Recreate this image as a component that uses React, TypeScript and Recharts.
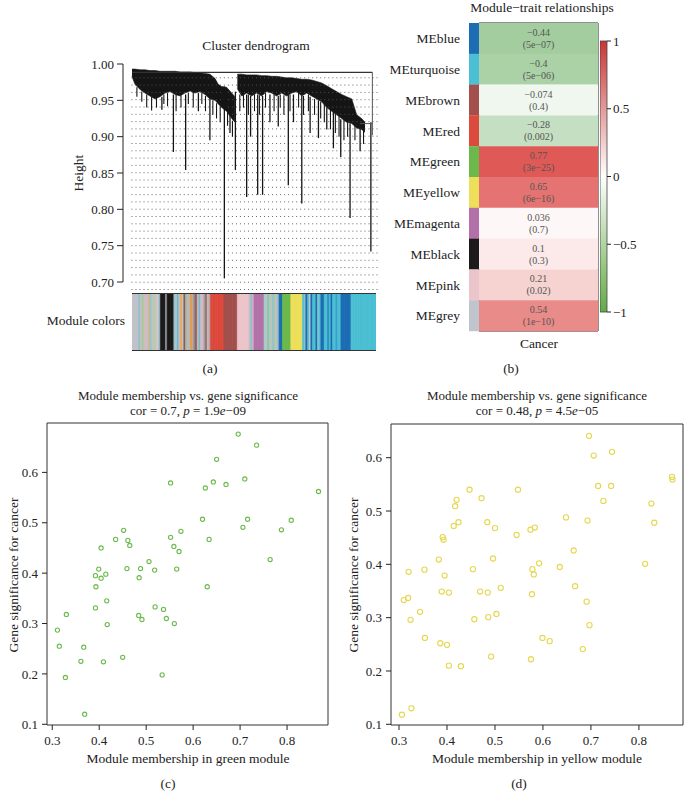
import React from 'react';
import {
  ComposedChart, Area, XAxis, YAxis, ReferenceLine, ReferenceArea,
  BarChart, Bar, Cell, LabelList, ScatterChart, Scatter
} from 'recharts';

const FONT = '"Liberation Serif", "DejaVu Serif", serif';
const INK = '#222';

// (a) dendrogram: dense upper mass of the tree, by leaf position (0..1)
const CORE_LEAF = [0, 0.012, 0.033, 0.053, 0.073, 0.094, 0.114, 0.135, 0.155, 0.176, 0.196, 0.216, 0.237, 0.257, 0.278, 0.298, 0.318, 0.339, 0.352, 0.366, 0.386, 0.407, 0.42, 0.425, 0.43, 0.448, 0.468, 0.488, 0.509, 0.529, 0.55, 0.57, 0.59, 0.611, 0.631, 0.652, 0.672, 0.693, 0.713, 0.733, 0.754, 0.774, 0.795, 0.815, 0.835, 0.856, 0.876, 0.897, 0.917, 0.937, 0.951];
const CORE_TOP = [0.993, 0.993, 0.992, 0.992, 0.991, 0.991, 0.99, 0.99, 0.99, 0.99, 0.989, 0.989, 0.989, 0.988, 0.988, 0.987, 0.986, 0.98, 0.972, 0.969, 0.968, 0.96, 0.955, null, 0.986, 0.986, 0.985, 0.985, 0.985, 0.984, 0.984, 0.983, 0.983, 0.982, 0.981, 0.981, 0.98, 0.979, 0.979, 0.978, 0.976, 0.974, 0.97, 0.966, 0.962, 0.958, 0.955, 0.952, 0.93, 0.925, 0.92];
const CORE_BOTTOM = [0.983, 0.972, 0.965, 0.96, 0.956, 0.952, 0.955, 0.96, 0.962, 0.958, 0.956, 0.96, 0.963, 0.96, 0.962, 0.958, 0.952, 0.95, 0.945, 0.94, 0.935, 0.925, 0.92, null, 0.966, 0.956, 0.96, 0.956, 0.96, 0.956, 0.962, 0.96, 0.956, 0.96, 0.956, 0.96, 0.962, 0.956, 0.96, 0.956, 0.952, 0.948, 0.94, 0.935, 0.93, 0.925, 0.92, 0.918, 0.912, 0.91, 0.906];

// long single branches hanging below the mass
const DRIP_LEAF = [0.122, 0.169, 0.219, 0.271, 0.318, 0.377, 0.4, 0.422, 0.468, 0.484, 0.513, 0.533, 0.563, 0.597, 0.638, 0.659, 0.693, 0.727, 0.761, 0.795, 0.822, 0.852, 0.89, 0.931, 0.975];
const DRIP_TOP = [0.955, 0.958, 0.958, 0.96, 0.952, 0.969, 0.93, 0.962, 0.958, 0.956, 0.958, 0.956, 0.958, 0.956, 0.958, 0.958, 0.956, 0.955, 0.95, 0.94, 0.934, 0.924, 0.918, 0.912, 0.92];
const DRIP_BOTTOM = [0.937, 0.879, 0.854, 0.935, 0.895, 0.705, 0.905, 0.854, 0.817, 0.9, 0.82, 0.82, 0.92, 0.914, 0.833, 0.92, 0.808, 0.905, 0.898, 0.91, 0.884, 0.872, 0.788, 0.88, 0.742];

// short twigs that make the ragged lower edge of the mass
const TWIG_LEAF = [0.02, 0.04, 0.06, 0.08, 0.1, 0.13, 0.145, 0.18, 0.2, 0.23, 0.25, 0.285, 0.3, 0.33, 0.345, 0.36, 0.39, 0.41, 0.44, 0.455, 0.475, 0.5, 0.52, 0.545, 0.58, 0.605, 0.62, 0.645, 0.68, 0.7, 0.72, 0.745, 0.77, 0.785, 0.81, 0.83, 0.845, 0.865, 0.88, 0.91, 0.945];
const TWIG_TOP = [0.968, 0.962, 0.958, 0.955, 0.955, 0.958, 0.96, 0.958, 0.957, 0.96, 0.962, 0.96, 0.956, 0.95, 0.946, 0.942, 0.934, 0.922, 0.958, 0.958, 0.958, 0.958, 0.957, 0.96, 0.958, 0.958, 0.957, 0.958, 0.96, 0.956, 0.958, 0.952, 0.948, 0.945, 0.937, 0.932, 0.928, 0.924, 0.92, 0.915, 0.908];
const TWIG_BOTTOM = [0.955, 0.948, 0.94, 0.936, 0.94, 0.945, 0.942, 0.935, 0.94, 0.945, 0.94, 0.945, 0.935, 0.93, 0.925, 0.92, 0.915, 0.9, 0.935, 0.94, 0.93, 0.935, 0.93, 0.94, 0.935, 0.94, 0.93, 0.935, 0.94, 0.93, 0.935, 0.93, 0.925, 0.92, 0.91, 0.905, 0.9, 0.895, 0.9, 0.895, 0.89];

const HEIGHT_TICKS = [0.7, 0.75, 0.8, 0.85, 0.9, 0.95, 1.0];
const GUIDE_LEAVES = Array.from({ length: 62 }, (_, i) => i / 61);

// module colour bar under the dendrogram: [colour, width units]
const STRIPE_RUNS: [string, number][] = [
  ['#c0c2c8', 4],
  ['#8fbfc9', 1], ['#c2c2c8', 1], ['#a8c98f', 1], ['#c2c2c8', 1], ['#e0b4b8', 1], ['#c2c2c8', 1], ['#c9b88a', 1],
  ['#9cc5cf', 1], ['#c2c2c8', 1], ['#b2d39a', 1], ['#c2c2c8', 1], ['#e4c4c8', 1], ['#8fc0cc', 1],
  ['#1c1a1a', 3], ['#9a9aa0', 1], ['#1c1a1a', 4],
  ['#8ec3cf', 1], ['#c0c0c6', 1], ['#6ab8cc', 1], ['#c2c2c8', 1], ['#e9a84d', 1], ['#c2c2c8', 1], ['#a0524d', 1],
  ['#8fbfc9', 1], ['#c9b88a', 1], ['#b8b8c0', 1], ['#e89a3c', 1], ['#c2a89a', 1], ['#8a8a92', 1], ['#a0524d', 1],
  ['#c2c2c8', 1], ['#7fb6c8', 1], ['#c2c2c8', 1], ['#e0b4b8', 1], ['#a0a0a8', 1], ['#9b6a60', 1], ['#c2c2c8', 1], ['#bfa0a0', 1],
  ['#dc4a3d', 8], ['#a34f4b', 8], ['#ecc4cb', 7],
  ['#c2c2c8', 1], ['#8fbfc9', 1], ['#d8a8c0', 1],
  ['#b272a9', 6],
  ['#9ccfc5', 1], ['#c2c2c8', 1], ['#7fc4b8', 1], ['#a8d0a0', 1], ['#c2c2c8', 1], ['#8ec3cf', 1], ['#b0c8a0', 1], ['#c2c2c8', 1], ['#8fbfc9', 1],
  ['#1c6db4', 2], ['#6cb94b', 5], ['#eddf5a', 7],
  ['#4bbfd3', 1], ['#8fbfc9', 1], ['#1c6db4', 1], ['#4bbfd3', 1], ['#c2c2c8', 1], ['#1c6db4', 1], ['#4bbfd3', 2], ['#1c6db4', 1],
  ['#8ec3cf', 1], ['#4bbfd3', 1], ['#1c6db4', 2], ['#4bbfd3', 2], ['#2a86c4', 1], ['#4bbfd3', 1], ['#1c6db4', 1], ['#4bbfd3', 2],
  ['#3a9fd0', 1], ['#4bbfd3', 2],
  ['#1c6db4', 6], ['#4bbfd3', 15],
];

// (b) module-trait relationships
const MODULES = ['blue', 'turquoise', 'brown', 'red', 'green', 'yellow', 'magenta', 'black', 'pink', 'grey'];
const MODULE_HEX = ['#1c6db4', '#4bbfd3', '#a34f4b', '#dc4a3d', '#6cb94b', '#eddf5a', '#b272a9', '#1c1a1a', '#ecc4cb', '#c0c4cc'];
const CORR = [-0.44, -0.4, -0.074, -0.28, 0.77, 0.65, 0.036, 0.1, 0.21, 0.54];
const PVAL = ['5e−07', '5e−06', '0.4', '0.002', '3e−25', '6e−16', '0.7', '0.3', '0.02', '1e−10'];
const LEGEND_TICKS = [-1, -0.5, 0, 0.5, 1];

// (c) green module
const GREEN_MM = [0.696, 0.735, 0.65, 0.552, 0.643, 0.626, 0.67, 0.71, 0.867, 0.62, 0.716, 0.706, 0.809, 0.788, 0.764, 0.634, 0.63, 0.452, 0.435, 0.461, 0.465, 0.404, 0.552, 0.574, 0.559, 0.57, 0.506, 0.518, 0.565, 0.488, 0.459, 0.485, 0.399, 0.392, 0.404, 0.414, 0.393, 0.416, 0.392, 0.417, 0.519, 0.537, 0.543, 0.56, 0.484, 0.491, 0.33, 0.311, 0.315, 0.367, 0.361, 0.409, 0.45, 0.328, 0.534, 0.369];
const GREEN_GS = [0.676, 0.654, 0.626, 0.579, 0.581, 0.569, 0.576, 0.587, 0.562, 0.507, 0.507, 0.491, 0.505, 0.486, 0.427, 0.467, 0.373, 0.485, 0.467, 0.465, 0.455, 0.45, 0.471, 0.483, 0.453, 0.443, 0.423, 0.406, 0.408, 0.409, 0.409, 0.391, 0.408, 0.395, 0.39, 0.398, 0.373, 0.345, 0.331, 0.298, 0.333, 0.328, 0.31, 0.3, 0.316, 0.308, 0.318, 0.287, 0.255, 0.253, 0.225, 0.224, 0.233, 0.193, 0.198, 0.12];

// (d) yellow module
const YELLOW_MM = [0.447, 0.548, 0.42, 0.417, 0.472, 0.414, 0.424, 0.484, 0.5, 0.545, 0.574, 0.583, 0.391, 0.393, 0.383, 0.496, 0.32, 0.353, 0.395, 0.454, 0.389, 0.404, 0.469, 0.485, 0.512, 0.31, 0.319, 0.344, 0.324, 0.457, 0.486, 0.503, 0.354, 0.386, 0.4, 0.492, 0.404, 0.429, 0.306, 0.326, 0.575, 0.577, 0.578, 0.581, 0.592, 0.696, 0.706, 0.744, 0.715, 0.742, 0.726, 0.869, 0.87, 0.826, 0.832, 0.813, 0.648, 0.693, 0.664, 0.635, 0.667, 0.691, 0.697, 0.683, 0.599, 0.614];
const YELLOW_GS = [0.54, 0.54, 0.521, 0.509, 0.524, 0.472, 0.479, 0.479, 0.468, 0.455, 0.465, 0.469, 0.451, 0.446, 0.409, 0.411, 0.386, 0.39, 0.379, 0.391, 0.349, 0.347, 0.349, 0.347, 0.356, 0.333, 0.337, 0.311, 0.296, 0.297, 0.301, 0.307, 0.262, 0.252, 0.249, 0.227, 0.21, 0.209, 0.118, 0.13, 0.222, 0.344, 0.391, 0.381, 0.402, 0.641, 0.604, 0.611, 0.547, 0.547, 0.519, 0.564, 0.559, 0.514, 0.478, 0.401, 0.488, 0.482, 0.426, 0.395, 0.359, 0.33, 0.286, 0.241, 0.262, 0.256];

const MM_TICKS = [0.3, 0.4, 0.5, 0.6, 0.7, 0.8];
const GS_TICKS = [0.1, 0.2, 0.3, 0.4, 0.5, 0.6];

const minus = (s: string) => s.replace('-', '−');

const corrColor = (v: number) => {
  const end = v >= 0 ? [214, 40, 36] : [46, 141, 35];
  const a = Math.abs(v);
  const c = end.map(e => Math.round(255 + (e - 255) * a));
  return `rgb(${c[0]},${c[1]},${c[2]})`;
};

const ring = (color: string, r: number) => (props: any) => (
  <circle cx={props.cx} cy={props.cy} r={r} fill="none" stroke={color} strokeWidth={1.1} />
);

const tickStyle = { fontSize: 13, fill: INK, fontFamily: FONT };
const X_PAD: [number, number] = [-0.0367, 1.0367];

const Dendrogram: React.FC = () => {
  const core = CORE_LEAF.map((leaf, i) => ({
    leaf,
    mass: CORE_TOP[i] == null ? null : [CORE_BOTTOM[i], CORE_TOP[i]],
  }));
  return (
    <ComposedChart width={400} height={300} data={core} margin={{ top: 64, right: 14, bottom: 10, left: 63 }}>
      <XAxis type="number" dataKey="leaf" domain={X_PAD} hide />
      <YAxis type="number" domain={[0.689, 1.0]} ticks={HEIGHT_TICKS} width={60} interval={0}
        tickFormatter={(v: number) => v.toFixed(2)} tick={tickStyle} tickSize={6} tickMargin={3}
        axisLine={false} tickLine={{ stroke: INK }} allowDataOverflow />
      {GUIDE_LEAVES.map((x, i) => (
        <ReferenceLine key={`g-${i}`} segment={[{ x, y: 0.689 }, { x, y: 0.985 }]} stroke="#555"
          strokeWidth={0.9} strokeDasharray="1 6.3" ifOverflow="visible" />
      ))}
      <ReferenceLine segment={[{ x: X_PAD[0], y: 0.7 }, { x: X_PAD[0], y: 1.0 }]} stroke={INK} ifOverflow="visible" />
      <Area type="linear" dataKey="mass" stroke="#151515" strokeWidth={0.6} fill="#151515" fillOpacity={1}
        connectNulls={false} isAnimationActive={false} dot={false} activeDot={false} />
      {TWIG_LEAF.map((x, i) => (
        <ReferenceLine key={`t-${i}`} segment={[{ x, y: TWIG_TOP[i] }, { x, y: TWIG_BOTTOM[i] }]}
          stroke="#151515" strokeWidth={1.1} ifOverflow="visible" />
      ))}
      {DRIP_LEAF.map((x, i) => (
        <ReferenceLine key={`d-${i}`} segment={[{ x, y: DRIP_TOP[i] }, { x, y: DRIP_BOTTOM[i] }]}
          stroke="#151515" strokeWidth={1.3} ifOverflow="visible" />
      ))}
      <ReferenceLine segment={[{ x: 0, y: 0.9885 }, { x: 0.981, y: 0.9885 }]} stroke="#333" strokeWidth={1.2} />
      <ReferenceLine segment={[{ x: 0.981, y: 0.9885 }, { x: 0.981, y: 0.902 }]} stroke="#555" strokeWidth={1} />
      <ReferenceLine segment={[{ x: 0.931, y: 0.918 }, { x: 0.981, y: 0.918 }]} stroke="#555" strokeWidth={1} />
    </ComposedChart>
  );
};

const ModuleColorBar: React.FC = () => {
  const stripes = STRIPE_RUNS.flatMap(([color, n]) => Array.from({ length: n }, () => ({ color, h: 1 })))
    .map((d, i) => ({ ...d, i }));
  return (
    <div style={{ position: 'absolute', left: 132, top: 293, width: 244, height: 56, borderTop: '1px solid #333', borderBottom: '1px solid #333' }}>
      <BarChart width={244} height={56} data={stripes} margin={{ top: 0, right: 0, bottom: 0, left: 0 }}
        barCategoryGap={0} barGap={0}>
        <XAxis dataKey="i" hide />
        <YAxis domain={[0, 1]} hide />
        <Bar dataKey="h" isAnimationActive={false}>
          {stripes.map((d, i) => <Cell key={`s-${i}`} fill={d.color} stroke={d.color} strokeWidth={0.6} />)}
        </Bar>
      </BarChart>
    </div>
  );
};

const STRIP_W = 10;
const CELL_W = 119;

const CellText = (props: any) => {
  const { x, y, width, height, value } = props;
  const [r, p] = String(value).split('|');
  const cx = x + width / 2;
  const cy = y + height / 2;
  return (
    <g>
      <text x={cx} y={cy - 6} textAnchor="middle" dominantBaseline="central" fontSize={10} fill="#555" fontFamily={FONT}>{r}</text>
      <text x={cx} y={cy + 6} textAnchor="middle" dominantBaseline="central" fontSize={10} fill="#555" fontFamily={FONT}>{p}</text>
    </g>
  );
};

const TraitHeatmap: React.FC = () => {
  const rows = MODULES.map((m, i) => ({
    name: `ME${m}`,
    strip: STRIP_W,
    cell: CELL_W,
    txt: `${minus(String(CORR[i]))}|(${PVAL[i]})`,
  }));
  return (
    <BarChart layout="vertical" width={342} height={360} data={rows}
      margin={{ top: 23, right: 86, bottom: 29, left: 7 }} barCategoryGap={0} barGap={0}>
      <XAxis type="number" domain={[0, STRIP_W + CELL_W]} hide />
      <YAxis type="category" dataKey="name" width={120} tickLine={false} axisLine={false}
        tick={{ fontSize: 13.5, fill: INK, fontFamily: FONT }} tickMargin={3} interval={0} />
      <Bar dataKey="strip" stackId="a" isAnimationActive={false}>
        {rows.map((_, i) => <Cell key={`m-${i}`} fill={MODULE_HEX[i]} />)}
      </Bar>
      <Bar dataKey="cell" stackId="a" isAnimationActive={false}>
        {rows.map((_, i) => <Cell key={`c-${i}`} fill={corrColor(CORR[i])} />)}
        <LabelList dataKey="txt" content={CellText} />
      </Bar>
      <ReferenceArea x1={STRIP_W} x2={STRIP_W + CELL_W} fill="none" stroke="#222" strokeWidth={1} ifOverflow="visible" />
    </BarChart>
  );
};

const CorrLegend: React.FC = () => (
  <div style={{ position: 'absolute', left: 600, top: 31 }}>
    <BarChart width={67} height={291} data={[{ k: 'r', range: [LEGEND_TICKS[0], LEGEND_TICKS[4]] }]}
      margin={{ top: 10, right: 0, bottom: 10, left: 0 }} barCategoryGap={0}>
      <defs>
        <linearGradient id="corrGrad" x1="0" y1="0" x2="0" y2="1">
          <stop offset="0%" stopColor="#c93535" />
          <stop offset="50%" stopColor="#ffffff" />
          <stop offset="100%" stopColor="#62aa45" />
        </linearGradient>
      </defs>
      <XAxis dataKey="k" hide />
      <YAxis orientation="right" type="number" domain={[-1, 1]} ticks={LEGEND_TICKS} width={60} interval={0}
        tickFormatter={(v: number) => minus(String(v))} tick={tickStyle} tickSize={4} tickMargin={2}
        axisLine={false} tickLine={{ stroke: INK }} />
      <Bar dataKey="range" fill="url(#corrGrad)" stroke="#444" strokeWidth={0.8} isAnimationActive={false} />
    </BarChart>
  </div>
);

interface MMProps {
  mm: number[];
  gs: number[];
  color: string;
  r: number;
  xDomain: [number, number];
  yDomain: [number, number];
  margin: { top: number; right: number; bottom: number; left: number };
}

const MMScatter: React.FC<MMProps> = ({ mm, gs, color, r, xDomain, yDomain, margin }) => {
  const pts = mm.map((x, i) => ({ x, y: gs[i] }));
  return (
    <ScatterChart width={342} height={380} margin={margin}>
      <XAxis type="number" dataKey="x" domain={xDomain} ticks={MM_TICKS} interval={0} height={40}
        tickFormatter={(v: number) => v.toFixed(1)} tick={tickStyle} tickSize={5} tickMargin={6}
        axisLine={false} tickLine={{ stroke: INK }} allowDataOverflow />
      <YAxis type="number" dataKey="y" domain={yDomain} ticks={GS_TICKS} interval={0} width={40}
        tickFormatter={(v: number) => v.toFixed(1)} tick={tickStyle} tickSize={5} tickMargin={4}
        axisLine={false} tickLine={{ stroke: INK }} allowDataOverflow />
      <ReferenceArea x1={xDomain[0]} x2={xDomain[1]} y1={yDomain[0]} y2={yDomain[1]} fill="none"
        stroke="#333" strokeWidth={1} ifOverflow="visible" />
      <Scatter data={pts} shape={ring(color, r)} isAnimationActive={false} />
    </ScatterChart>
  );
};

const T: React.FC<{ x: number; y: number; size?: number; anchor?: string; rotate?: boolean; children: React.ReactNode }> =
  ({ x, y, size = 13.5, anchor = 'middle', rotate, children }) => (
    <text x={x} y={y} fontSize={size} fontFamily={FONT} fill={INK} textAnchor={anchor as any} dominantBaseline="central"
      transform={rotate ? `rotate(-90 ${x} ${y})` : undefined}>{children}</text>
  );

export default function App() {
  return (
    <div style={{ position: 'absolute', left: 0, top: 0, width: 684, height: 802, background: '#fff', overflow: 'hidden' }}>
      <div style={{ position: 'absolute', left: 0, top: 0 }}><Dendrogram /></div>
      <ModuleColorBar />
      <div style={{ position: 'absolute', left: 342, top: 0 }}><TraitHeatmap /></div>
      <CorrLegend />
      <div style={{ position: 'absolute', left: 0, top: 400 }}>
        <MMScatter mm={GREEN_MM} gs={GREEN_GS} color="#6cba4c" r={2.1}
          xDomain={[0.2888, 0.8872]} yDomain={[0.0986, 0.698]} margin={{ top: 23, right: 14, bottom: 15, left: 7 }} />
      </div>
      <div style={{ position: 'absolute', left: 342, top: 400 }}>
        <MMScatter mm={YELLOW_MM} gs={YELLOW_GS} color="#e6d751" r={2.6}
          xDomain={[0.2833, 0.8919]} yDomain={[0.0987, 0.6632]} margin={{ top: 24, right: 1, bottom: 15, left: 9 }} />
      </div>
      <svg width={684} height={802} style={{ position: 'absolute', left: 0, top: 0, pointerEvents: 'none' }}>
        <T x={256} y={45}>Cluster dendrogram</T>
        <T x={78} y={173} rotate>Height</T>
        <T x={125} y={320} anchor="end">Module colors</T>
        <T x={210} y={368}>(a)</T>
        <T x={542} y={7}>Module−trait relationships</T>
        <T x={539} y={343}>Cancer</T>
        <T x={511} y={368}>(b)</T>
        <T x={188} y={395} size={13}>Module membership vs. gene significance</T>
        <T x={188} y={410} size={13}>cor = 0.7, <tspan fontStyle="italic">p</tspan> = 1.9<tspan fontStyle="italic">e</tspan>−09</T>
        <T x={537} y={395} size={13}>Module membership vs. gene significance</T>
        <T x={537} y={410} size={13}>cor = 0.48, <tspan fontStyle="italic">p</tspan> = 4.5<tspan fontStyle="italic">e</tspan>−05</T>
        <T x={188} y={758}>Module membership in green module</T>
        <T x={537} y={758}>Module membership in yellow module</T>
        <T x={13} y={575} rotate>Gene significance for cancer</T>
        <T x={353} y={575} rotate>Gene significance for cancer</T>
        <T x={168} y={783}>(c)</T>
        <T x={519} y={783}>(d)</T>
      </svg>
    </div>
  );
}
